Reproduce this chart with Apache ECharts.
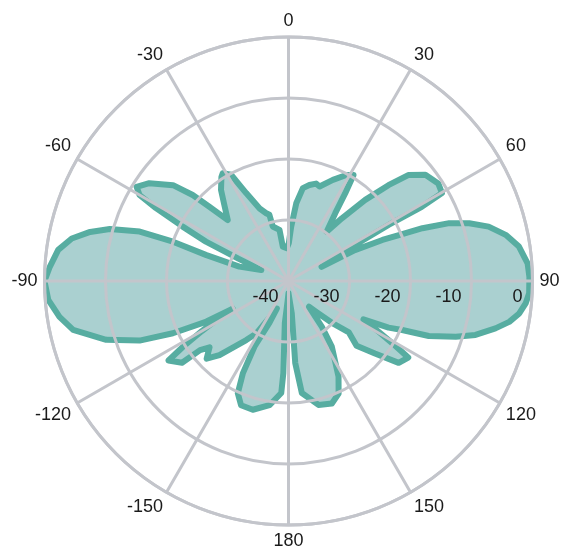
<!DOCTYPE html>
<html>
<head>
<meta charset="utf-8">
<script src="https://cdn.jsdelivr.net/npm/echarts@6/dist/echarts.min.js"></script>
<style>
html,body{margin:0;padding:0;background:#fff;}
#chart{width:562px;height:550px;}
</style>
</head>
<body>
<div id="chart"></div>
<script>
// Outline of the radiation pattern, traced in order (angle in degrees, gain in dB)
const angles = [
  -180, -177.5, -175, -176.8, -176.3, -171.3, -164.5, -159.1, -155.7, -153.7,
  -152.6, -155.5, -157, -151.5, -148.5, -144.4, -137, -133.5, -130, -128,
  -127.5, -123.5, -122, -120, -118, -116.3, -116.3, -114.3, -111.8, -107.9,
  -102.8, -98.9, -94.5, -90, -86.6, -82.3, -78.9, -76.1, -73.8, -71.6,
  -71.2, -72.5, -73.7, -68.1, -66, -64.5, -62.8, -61.2, -60, -58.2,
  -54.9, -50.3, -48.1, -46.8, -44.9, -40, -36.5, -32.8, -31.4, -28.4,
  -25.7, -21.7, -18.2, -16.1, -16.1, -10, -9.4, -3, 0.5, 2.8,
  5.7, 8.8, 12.3, 15.8, 18.2, 23.7, 28.6, 31.5, 32.9, 34.6,
  37.8, 40.4, 43.4, 46.2, 48.5, 52.2, 56.9, 60.2, 60.9, 60.75,
  61.6, 66.8, 65.1, 66.4, 67.4, 68.5, 70.2, 72.3, 74.8, 78,
  81.5, 85.8, 89, 92.9, 95.4, 98, 100.5, 102.9, 106.1, 108.4,
  111.4, 113.3, 115, 117.1, 119, 121, 122.6, 126.6, 130, 133.6,
  130.4, 134, 138, 141.5, 143.9, 146.6, 152.4, 156, 160.5, 166.4,
  173.2, 175.3, 174.2, 177, 180
];
const gains = [
  -38.0, -36.7, -33.1, -24.9, -21.6, -19.4, -18.1, -18.2, -19.8, -23.1,
  -27.9, -32.5, -35.1, -32.6, -29.9, -28.1, -23.4, -21.5, -23.1, -21.6,
  -18.0, -16.4, -19.5, -23.6, -26.9, -29.8, -25.0, -19.2, -13.7, -8.6,
  -3.8, -2.0, -0.5, 0.0, -0.8, -1.9, -3.8, -6.5, -9.5, -14.3,
  -20.0, -25.9, -31.6, -35.2, -31.0, -25.0, -20.5, -15.2, -11.8, -10.7,
  -12.1, -15.4, -18.9, -22.2, -25.9, -23.6, -21.4, -19.7, -19.3, -20.2,
  -24.0, -27.2, -28.3, -28.7, -30.7, -31.5, -34.3, -34.6, -33.8, -31.1,
  -27.2, -24.6, -23.9, -23.4, -23.7, -21.9, -20.2, -19.6, -22.9, -26.5,
  -29.8, -26.5, -21.7, -17.3, -13.8, -11.6, -10.7, -11.0, -15.0, -21.2,
  -27.6, -34.1, -28.0, -23.2, -20.4, -16.4, -12.0, -8.9, -6.0, -3.6,
  -1.8, -0.7, -0.5, -0.5, -0.95, -1.8, -3.2, -5.2, -8.1, -11.1,
  -15.3, -19.7, -21.9, -26.2, -23.6, -20.0, -16.7, -17.5, -21.5, -24.6,
  -27.0, -30.2, -33.1, -34.6, -30.7, -27.1, -22.3, -19.8, -18.7, -19.1,
  -21.5, -26.5, -34.7, -37.0, -38.0
];
const radialTicks = [-40, -30, -20, -10, 0];
const angleTickStep = 30;

const GRID = '#c3c5cb';
const chart = echarts.init(document.getElementById('chart'), null, {renderer: 'canvas'});

// angle axis runs 90..450 so that 90 sits on the right (where the radius axis lies)
const toAxisAngle = a => (a < 90 ? a + 360 : a);
const seriesData = angles.map((a, i) => [Math.max(gains[i], radialTicks[0]), toAxisAngle(a)]);

chart.setOption({
  backgroundColor: '#ffffff',
  animation: false,
  polar: { center: [288.5, 281], radius: 244 },
  angleAxis: {
    type: 'value', min: 90, max: 450, interval: angleTickStep,
    startAngle: 0, clockwise: true, z: 5,
    axisLine: { show: true, lineStyle: { color: GRID, width: 3 } },
    axisTick: { show: false },
    splitLine: { show: true, lineStyle: { color: GRID, width: 3 } },
    axisLabel: {
      color: '#1a1a1a', fontSize: 18, fontFamily: 'Liberation Sans', margin: 7,
      formatter: v => { let a = v % 360; if (a > 180) a -= 360; return String(a); }
    }
  },
  radiusAxis: {
    type: 'value', min: radialTicks[0], max: radialTicks[radialTicks.length - 1], interval: 10, z: 5,
    axisLine: { show: false },
    axisTick: { show: false },
    splitLine: { show: true, lineStyle: { color: GRID, width: 3 } },
    axisLabel: {
      color: '#1a1a1a', fontSize: 18, fontFamily: 'Liberation Sans',
      align: 'right', verticalAlign: 'top', margin: -7, padding: [0, 10, 0, 0]
    }
  },
  series: [{
    type: 'line', coordinateSystem: 'polar', z: 1,
    data: seriesData, showSymbol: false, symbol: 'none', smooth: false,
    lineStyle: { color: '#57ada1', width: 6, join: 'round', cap: 'round' },
    areaStyle: { color: '#aad0d0', opacity: 1, origin: 'start' }
  }]
});
</script>
</body>
</html>
